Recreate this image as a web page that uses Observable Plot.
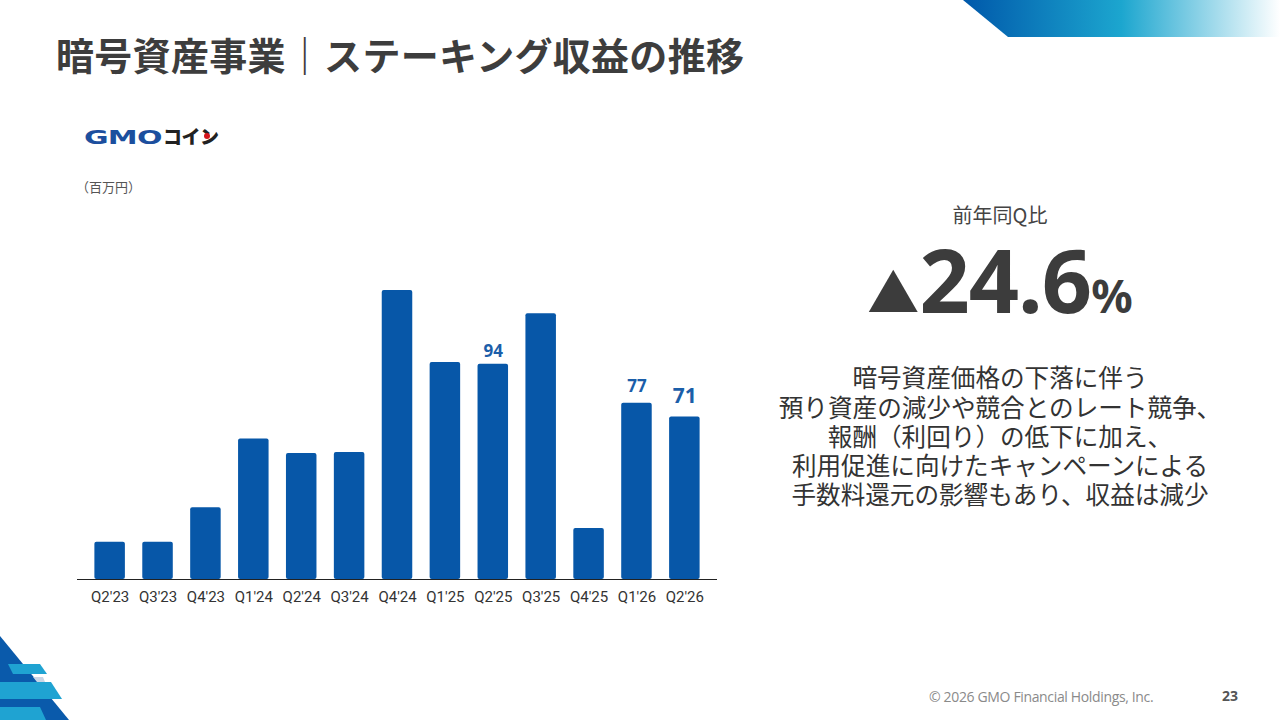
<!DOCTYPE html>
<html lang="ja">
<head>
<meta charset="utf-8">
<script src="https://cdn.jsdelivr.net/npm/d3@7"></script>
<script src="https://cdn.jsdelivr.net/npm/@observablehq/plot@0.6"></script>
<style>
  html, body { margin: 0; padding: 0; background: #fff; }
  body { width: 1280px; height: 720px; position: relative; overflow: hidden;
         font-family: "Noto Sans CJK JP", "Noto Sans", sans-serif; color: #3c3c3c; }
  .abs { position: absolute; }
  #title { left: 56px; top: 26px; font-size: 38px; font-weight: 700; color: #3d3d3d; letter-spacing: 0.3px; white-space: nowrap; }
  #logo { left: 84px; top: 127px; white-space: nowrap; line-height: 1; }
  #logo .gmo { font-family: "DejaVu Sans", sans-serif; font-weight: 700; font-size: 20px; color: #1c4f9e; letter-spacing: -0.5px; transform: scaleX(1.5); display: inline-block; transform-origin: left; }
  #logo .coin { font-family: "Noto Sans CJK JP"; font-weight: 900; font-size: 19px; color: #222; position: absolute; left: 79px; top: -1px; letter-spacing: -0.5px; }
  #logo .dot { position: absolute; left: 120px; top: 6px; width: 6px; height: 6px; border-radius: 50%; background: #d4151c; }
  #unit { left: 76px; top: 177px; font-size: 13px; color: #555; }
  #chart { left: 0; top: 250px; }
  #yoyLabel { left: 850px; width: 300px; top: 205px; text-align: center; font-size: 20px; line-height: 20px; color: #444; }
  #yoy { left: 800px; width: 400px; top: 244px; height: 76px; display: flex; justify-content: center; align-items: baseline; font-weight: 700; color: #3c3c3c; white-space: nowrap; }
  #yoy span { display: inline-block; line-height: 0.8; }
  #yoy .tri { font-size: 52px; }
  #yoy .num { font-size: 88px; letter-spacing: -1px; font-family: "Noto Sans", sans-serif; }
  #yoy .pct { font-size: 46px; font-family: "Noto Sans", sans-serif; }
  .dl { left: 700px; width: 600px; text-align: center; font-size: 24.6px; line-height: 24px; height: 24px; color: #333; white-space: nowrap; }
  #footer { left: 929px; top: 687px; font-family: "Open Sans", sans-serif; font-size: 14px; color: #8a8a8a; letter-spacing: -0.35px; }
  #page { left: 1222px; top: 686px; font-family: "Open Sans", sans-serif; font-size: 14px; font-weight: 700; color: #555; }
</style>
</head>
<body>
<svg class="abs" style="left:0;top:0" width="1280" height="720">
  <defs>
    <linearGradient id="tg" x1="963" y1="0" x2="1280" y2="0" gradientUnits="userSpaceOnUse">
      <stop offset="0" stop-color="#0058aa"/>
      <stop offset="0.5" stop-color="#1ca6cf"/>
      <stop offset="1" stop-color="#ffffff"/>
    </linearGradient>
  </defs>
  <polygon points="963,0 1280,0 1280,37 1008,37" fill="url(#tg)"/>
  <polygon points="0,636 69,720 0,720" fill="#0a5aab"/>
  <polygon points="8,664 40,664 47,674 13,674" fill="#1fa3d2"/>
  <polygon points="33,677 43,677 45,682 37,682" fill="#c9d6e6"/>
  <polygon points="0,682 51,682 62,699 0,699" fill="#1fa3d2"/>
  <polygon points="0,707 40,707 46,720 0,720" fill="#1fa3d2"/>
</svg>

<div id="title" class="abs">暗号資産事業｜ステーキング収益の推移</div>
<div id="logo" class="abs"><span class="gmo">GMO</span><span class="coin">コイン</span><span class="dot"></span></div>
<div id="unit" class="abs">（百万円）</div>
<div id="chart" class="abs"></div>

<div id="yoyLabel" class="abs">前年同Q比</div>
<div id="yoy" class="abs"><span class="tri">▲</span><span class="num">24.6</span><span class="pct">%</span></div>
<div class="abs dl" style="top:364px">暗号資産価格の下落に伴う</div>
<div class="abs dl" style="top:394px">預り資産の減少や競合とのレート競争、</div>
<div class="abs dl" style="top:423px">報酬（利回り）の低下に加え、</div>
<div class="abs dl" style="top:452px">利用促進に向けたキャンペーンによる</div>
<div class="abs dl" style="top:481px">手数料還元の影響もあり、収益は減少</div>

<div id="footer" class="abs">© 2026 GMO Financial Holdings, Inc.</div>
<div id="page" class="abs">23</div>

<script>
// ---- data ----
const quarters = ["Q2'23","Q3'23","Q4'23","Q1'24","Q2'24","Q3'24","Q4'24","Q1'25","Q2'25","Q3'25","Q4'25","Q1'26","Q2'26"];
const revenue  = [16.3, 16.3, 31.3, 61.4, 55.0, 55.5, 126.2, 94.8, 94, 116, 22.3, 77, 71];
const labelQuarters = ["Q2'25", "Q1'26", "Q2'26"];
const labelTexts    = ["94", "77", "71"];

// ---- build ----
const rows = quarters.map((q, i) => ({quarter: q, value: revenue[i]}));
const labelRows = labelQuarters.map((q, i) => ({quarter: q, value: revenue[quarters.indexOf(q)], text: labelTexts[i]}));

const barColor = "#0757a8";
const labelColor = "#1b5ea9";
const labelFmt = {
  "Q2'25": {fontSize: 17, dy: -7},
  "Q1'26": {fontSize: 17, dy: -11},
  "Q2'26": {fontSize: 21, dy: -14}
};

const labelMarks = labelRows.map(r => Plot.text([r], {
  x: "quarter", y: "value", text: "text",
  lineAnchor: "bottom", fill: labelColor, fontWeight: 700,
  fontFamily: "Noto Sans", fontSize: labelFmt[r.quarter].fontSize, dy: labelFmt[r.quarter].dy
}));

const chart = Plot.plot({
  width: 740,
  height: 360,
  marginLeft: 77,
  marginRight: 23,
  marginTop: 8.4,
  marginBottom: 31,
  style: {fontFamily: "Roboto, sans-serif", fontSize: "15px", color: "#333", background: "transparent"},
  x: {domain: quarters, padding: 0.363, round: false, label: null},
  y: {domain: [0, 140], axis: null},
  marks: [
    Plot.barY(rows, {x: "quarter", y: "value", fill: barColor, rx: 2}),
    Plot.ruleY([0], {stroke: "#222", strokeWidth: 1}),
    Plot.axisX({tickSize: 0, tickPadding: 12, fontSize: 15, fill: "#333", label: null}),
    ...labelMarks
  ]
});
document.getElementById("chart").appendChild(chart);
</script>
</body>
</html>
